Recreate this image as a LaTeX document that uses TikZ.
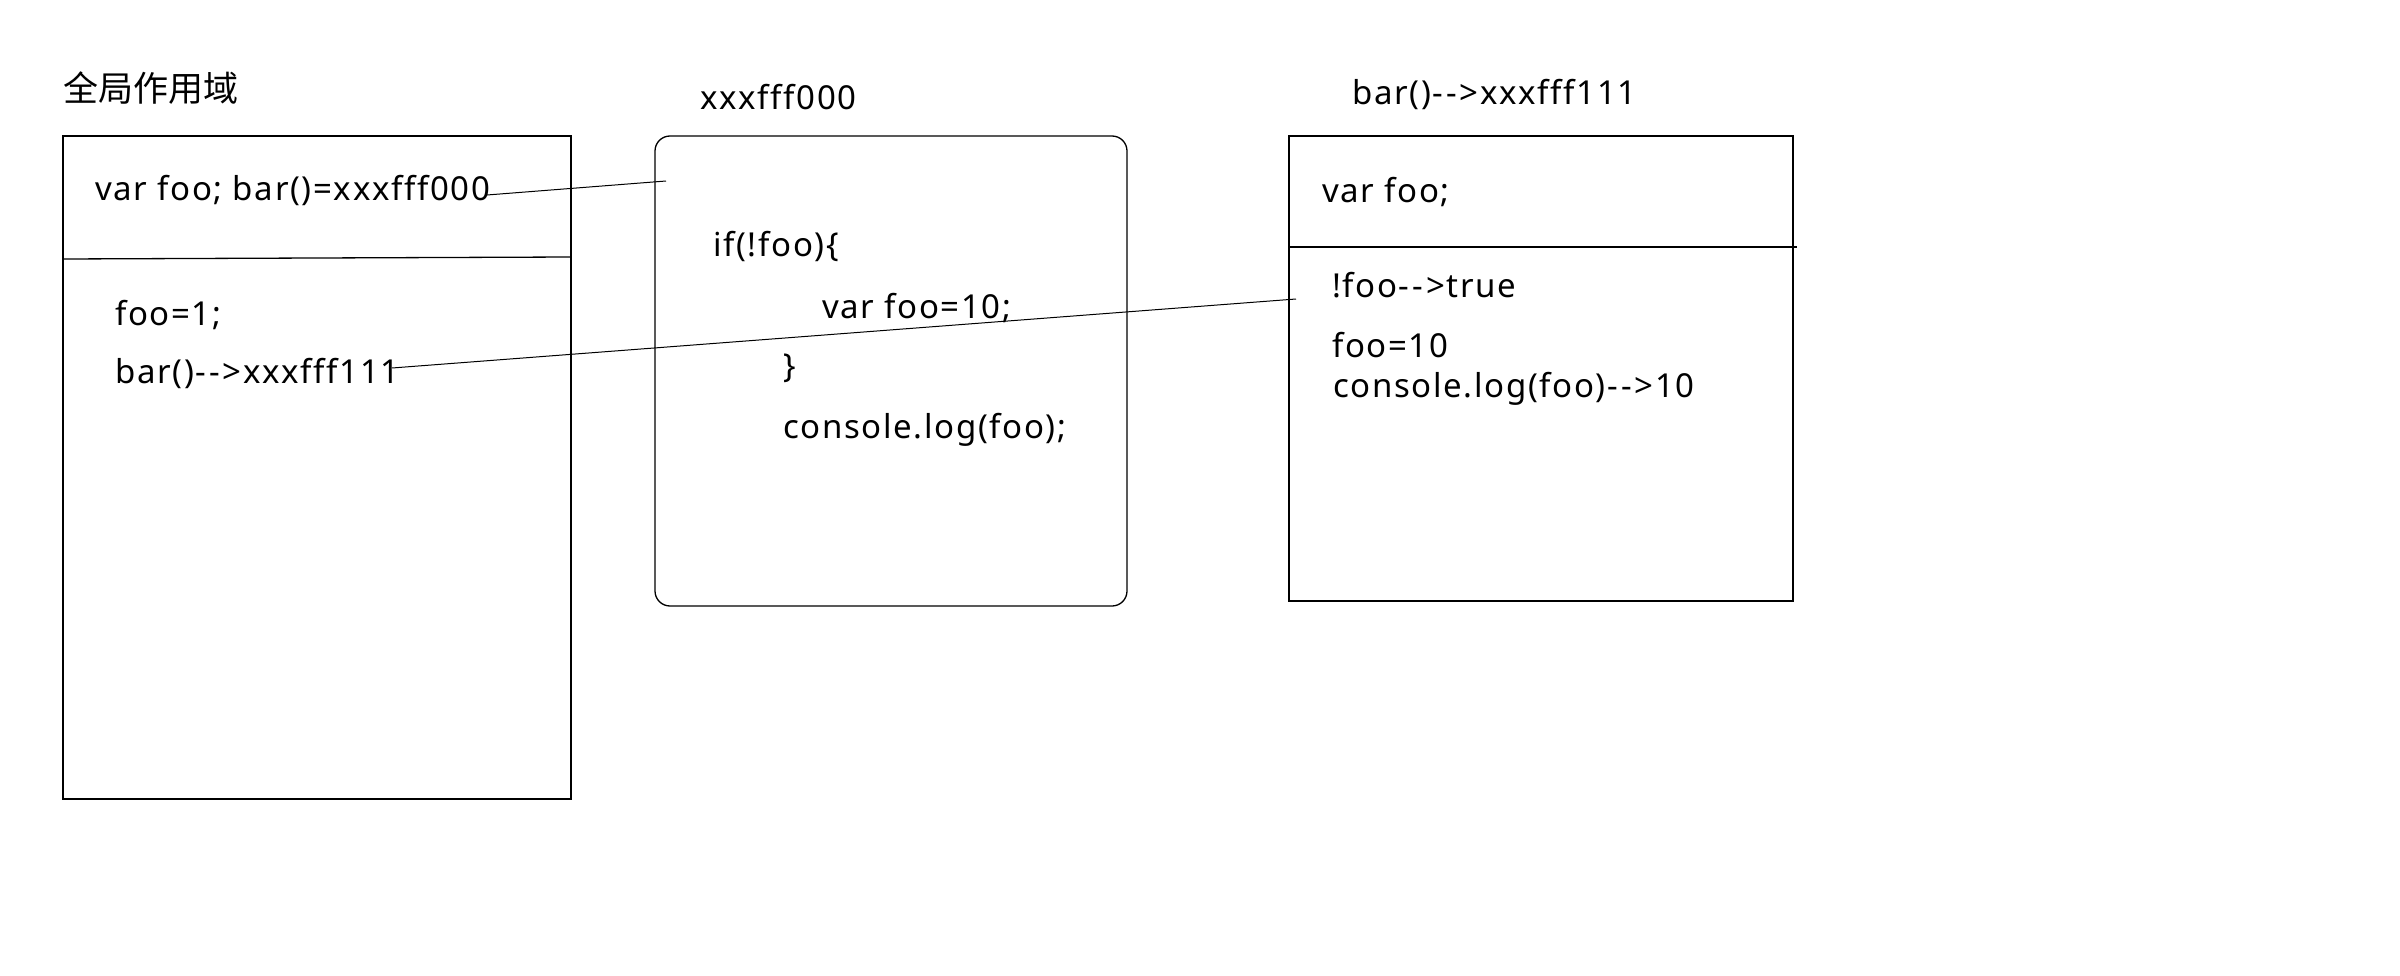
\documentclass[tikz,border=0pt]{standalone}
\usepackage{fontspec}
\newfontfamily\lat{Noto Sans}[Ligatures=NoCommon, LetterSpace=5]
\newfontfamily\cjk{Noto Sans CJK SC}
\newcommand\darr{-\kern3pt-\kern3pt>}
\begin{document}
\begin{tikzpicture}[x=1pt,y=-1pt,
  txt/.style={inner sep=0pt, anchor=base west, font=\lat\fontsize{33}{38}\selectfont},
  box/.style={draw=black, line width=1.3pt},
  link/.style={draw=black, line width=1pt}]
\useasboundingbox[fill=white] (0,0) rectangle (2400,976);
% box 1: global scope
\node[inner sep=0pt, anchor=base west, font=\cjk\fontsize{35}{40}\selectfont] (g) at (63,102) {全局作用域};
\draw[box] (63,136) rectangle (571,799);
\draw[box] (63,259) -- (571,257);
\node[txt] (g1) at (95,201) {var foo; bar()=xxxfff000};
\node[txt] (g2) at (115,325) {foo=1;};
\node[txt] (g3) at (115,383) {bar()\darr xxxfff111};
% box 2: function bar
\node[txt] (f) at (700,110) {xxxfff000};
\draw[box, rounded corners=15pt] (655,136) rectangle (1127,606);
\node[txt] (f1) at (713,257) {if(!foo)\{};
\node[txt] (f2) at (822,318) {var foo=10;};
\node[txt] (f3) at (783,377) {\}};
\node[txt] (f4) at (783,438) {console.log(foo);};
% box 3: execution context of bar
\node[txt] (e) at (1352,105) {bar()\darr xxxfff111};
\draw[box] (1289,136) rectangle (1793,601);
\draw[box] (1289,247) -- (1797,247);
\node[txt] (e1) at (1322,203) {var foo;};
\node[txt] (e2) at (1332,297) {!foo\darr true};
\node[txt] (e3) at (1332,357) {foo=10};
\node[txt] (e4) at (1333,397) {console.log(foo)\darr 10};
% connectors
\coordinate (a1) at (487,195);
\coordinate (a2) at (666,181);
\coordinate (b1) at (392,368);
\coordinate (b2) at (1296,299);
\draw[link] (a1) -- (a2);
\draw[link] (b1) -- (b2);
\end{tikzpicture}
\end{document}
